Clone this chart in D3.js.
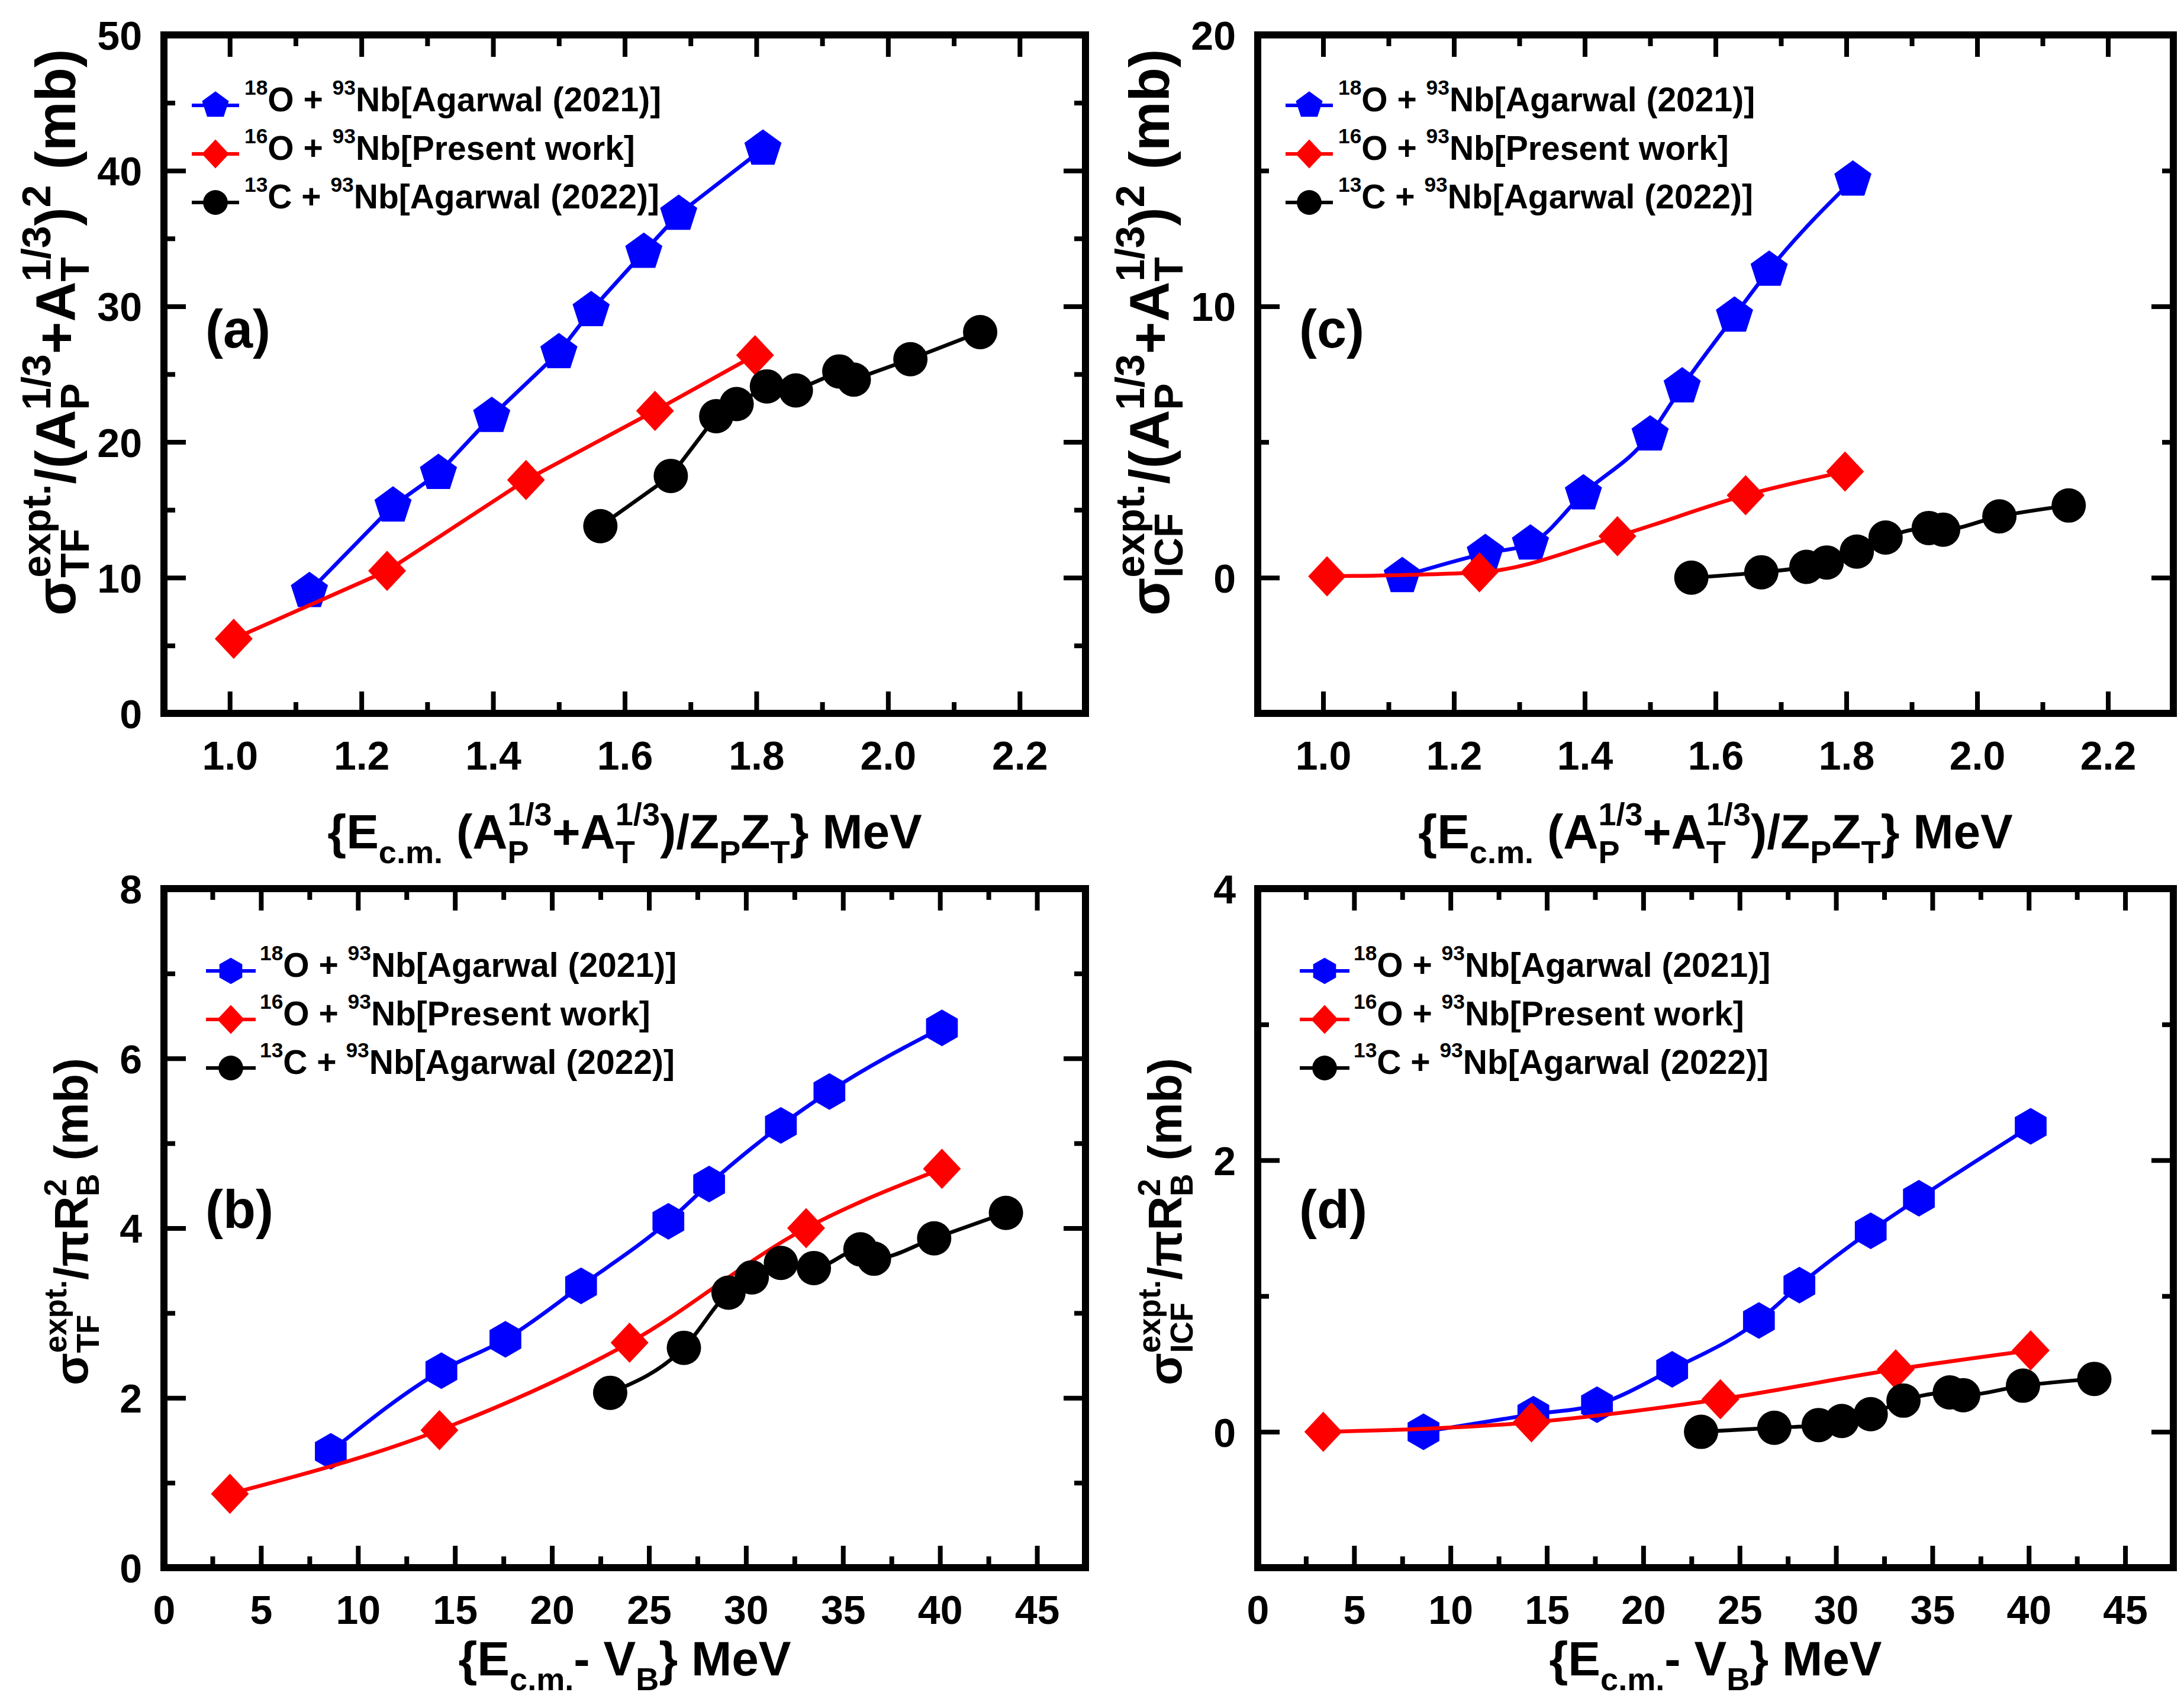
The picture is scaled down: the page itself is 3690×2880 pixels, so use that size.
<!DOCTYPE html>
<html>
<head>
<meta charset="utf-8">
<script src="https://cdn.jsdelivr.net/npm/d3@7"></script>
<style>
  html, body { margin: 0; padding: 0; background: #fff; }
</style>
</head>
<body>
<div id="chart"></div>
<script>
// ---- data ----
// reduced energy  E_cm (Ap^1/3 + At^1/3) / ZpZt  (MeV)
const redE18O = [1.121, 1.248, 1.317, 1.398, 1.5, 1.549, 1.629, 1.682, 1.81];
const redE16O = [1.006, 1.239, 1.45, 1.646, 1.798];
const redE13C = [1.563, 1.67, 1.739, 1.77, 1.816, 1.86, 1.926, 1.948, 2.034, 2.14];
// E_cm - V_B (MeV)
const ecmVb18O = [8.6, 14.3, 17.6, 21.5, 26.0, 28.1, 31.8, 34.3, 40.1];
const ecmVb16O = [3.4, 14.2, 24.0, 33.1, 40.1];
const ecmVb13C = [23.0, 26.8, 29.1, 30.3, 31.8, 33.5, 35.9, 36.6, 39.7, 43.4];

// (a) sigma_TF / (Ap^1/3 + At^1/3)^2
const tfRed18O = [9.0, 15.3, 17.7, 21.9, 26.6, 29.7, 34.0, 36.8, 41.6];
const tfRed16O = [5.5, 10.5, 17.2, 22.3, 26.4];
const tfRed13C = [13.8, 17.5, 21.9, 22.8, 24.1, 23.8, 25.2, 24.6, 26.1, 28.1];
// (c) sigma_ICF / (Ap^1/3 + At^1/3)^2
const icfRed18O = [0.05, 0.9, 1.25, 3.1, 5.27, 7.04, 9.65, 11.34, 14.66];
const icfRed16O = [0.05, 0.2, 1.53, 3.04, 3.91];
const icfRed13C = [0.0, 0.2, 0.4, 0.56, 0.96, 1.48, 1.83, 1.77, 2.26, 2.66];
// (b) sigma_TF / pi R_B^2
const tfPi18O = [1.37, 2.32, 2.69, 3.32, 4.08, 4.52, 5.21, 5.61, 6.36];
const tfPi16O = [0.87, 1.62, 2.65, 4.0, 4.7];
const tfPi13C = [2.06, 2.59, 3.24, 3.42, 3.59, 3.53, 3.75, 3.64, 3.88, 4.18];
// (d) sigma_ICF / pi R_B^2
const icfPi18O = [0.0, 0.13, 0.2, 0.46, 0.82, 1.08, 1.48, 1.72, 2.25];
const icfPi16O = [0.0, 0.07, 0.24, 0.46, 0.6];
const icfPi13C = [0.0, 0.03, 0.05, 0.08, 0.13, 0.23, 0.29, 0.27, 0.34, 0.39];

// legend entries
const legIso = ["18", "16", "13"];
const legProj = ["O + ", "O + ", "C + "];
const legRef = ["Nb[Agarwal (2021)]", "Nb[Present work]", "Nb[Agarwal (2022)]"];

// tick labels
const tickRedE = [1.0, 1.2, 1.4, 1.6, 1.8, 2.0, 2.2];
const tickEcmVb = [0, 5, 10, 15, 20, 25, 30, 35, 40, 45];
const tickTFred = [0, 10, 20, 30, 40, 50];
const tickICFred = [0, 10, 20];
const tickTFpi = [0, 2, 4, 6, 8];
const tickICFpi = [0, 2, 4];

// ---- layout ----
const W = 3690, H = 2880;
const FONT = "'Liberation Sans', Arial, Helvetica, sans-serif";
const colors = ["#0000ff", "#ff0000", "#000000"];

const svg = d3.select("#chart").append("svg")
  .attr("width", W).attr("height", H)
  .style("font-family", FONT).style("font-weight", "bold");

// rich text: parts = [text, kind("n"|"sup"|"sub"), stackWithNext]
function rich(parent, parts, size, o = {}) {
  const sc = o.scale || 0.66, up = o.raise || 0.45, down = o.drop || 0.26;
  const g = parent.append("g");
  let x = 0, stack = null;
  parts.forEach(([t, kind, stacked]) => {
    const fs = kind === "n" ? size : size * sc;
    const yOff = kind === "sup" ? -size * up : kind === "sub" ? size * down : 0;
    const el = g.append("text")
      .attr("x", x).attr("y", yOff)
      .attr("font-size", fs)
      .style("white-space", "pre")
      .text(t);
    const w = el.node().getComputedTextLength();
    if (stacked) {
      stack = { x, w };
    } else if (stack) {
      x = stack.x + Math.max(stack.w, w);
      stack = null;
    } else {
      x += w;
    }
  });
  return { g, w: x };
}

function polygon(n, r, rot) {
  const pts = d3.range(n).map(i => {
    const a = rot + (i * 2 * Math.PI) / n;
    return [r * Math.cos(a), r * Math.sin(a)];
  });
  return "M" + pts.map(p => p.join(",")).join("L") + "Z";
}

function markerPath(shape, s) {
  if (shape === "pentagon") return polygon(5, 33 * s, -Math.PI / 2);
  if (shape === "hexagon") return polygon(6, 31 * s, -Math.PI / 2);
  if (shape === "diamond") {
    const hw = 32 * s, hh = 34 * s;
    return `M0,${-hh}L${hw},0L0,${hh}L${-hw},0Z`;
  }
  const p = d3.path();
  p.arc(0, 0, 29 * s, 0, 2 * Math.PI);
  return p.toString();
}

const xTitleRed = [["{E", "n"], ["c.m.", "sub"], [" (A", "n"], ["1/3", "sup", true], ["P", "sub"],
  ["+A", "n"], ["1/3", "sup", true], ["T", "sub"], [")/Z", "n"], ["P", "sub"], ["Z", "n"], ["T", "sub"], ["} MeV", "n"]];
const xTitleEcm = [["{E", "n"], ["c.m.", "sub"], ["- V", "n"], ["B", "sub"], ["} MeV", "n"]];
const yTitleRed = k => [["σ", "n"], ["expt.", "sup", true], [k, "sub"], ["/(A", "n"], ["1/3", "sup", true], ["P", "sub"],
  ["+A", "n"], ["1/3", "sup", true], ["T", "sub"], [")", "n"], ["2", "sup"], [" (mb)", "n"]];
const yTitlePi = k => [["σ", "n"], ["expt.", "sup", true], [k, "sub"], ["/πR", "n"], ["2", "sup", true], ["B", "sub"], [" (mb)", "n"]];

const panels = [
  { label: "(a)", box: [277, 59, 1834, 1205], xDom: [0.9, 2.3], yDom: [0, 50],
    xTicks: tickRedE, yTicks: tickTFred, xFmt: d3.format(".1f"),
    xs: [redE18O, redE16O, redE13C], ys: [tfRed18O, tfRed16O, tfRed13C],
    shapes: ["pentagon", "diamond", "circle"], curve: d3.curveLinear,
    xTitle: xTitleRed, yTitle: yTitleRed("TF"), xTitleY: 1433,
    yTitleSize: 94, yTitleScale: 0.72, yTitleStart: 1040, yTitleX: 150,
    labelY: 587, leg: [129, 47, 127, 136] },
  { label: "(c)", box: [2125, 59, 3672, 1205], xDom: [0.9, 2.3], yDom: [-5, 20],
    xTicks: tickRedE, yTicks: tickICFred, xFmt: d3.format(".1f"),
    xs: [redE18O, redE16O, redE13C], ys: [icfRed18O, icfRed16O, icfRed13C],
    shapes: ["pentagon", "diamond", "circle"], curve: d3.curveMonotoneX,
    xTitle: xTitleRed, yTitle: yTitleRed("ICF"), xTitleY: 1433,
    yTitleSize: 94, yTitleScale: 0.72, yTitleStart: 1040, yTitleX: 150,
    labelY: 587, leg: [129, 47, 127, 136] },
  { label: "(b)", box: [277, 1501, 1834, 2648], xDom: [0, 47.5], yDom: [0, 8],
    xTicks: tickEcmVb, yTicks: tickTFpi, xFmt: d3.format("d"),
    xs: [ecmVb18O, ecmVb16O, ecmVb13C], ys: [tfPi18O, tfPi16O, tfPi13C],
    shapes: ["hexagon", "diamond", "circle"], curve: d3.curveMonotoneX,
    xTitle: xTitleEcm, yTitle: yTitlePi("TF"), xTitleY: 2830,
    yTitleSize: 80, yTitleScale: 0.66, yTitleStart: 2340, yTitleX: 129,
    labelY: 2074, leg: [149, 71, 155, 162] },
  { label: "(d)", box: [2125, 1501, 3672, 2648], xDom: [0, 47.5], yDom: [-1, 4],
    xTicks: tickEcmVb, yTicks: tickICFpi, xFmt: d3.format("d"),
    xs: [ecmVb18O, ecmVb16O, ecmVb13C], ys: [icfPi18O, icfPi16O, icfPi13C],
    shapes: ["hexagon", "diamond", "circle"], curve: d3.curveMonotoneX,
    xTitle: xTitleEcm, yTitle: yTitlePi("ICF"), xTitleY: 2830,
    yTitleSize: 80, yTitleScale: 0.66, yTitleStart: 2340, yTitleX: 129,
    labelY: 2074, leg: [149, 71, 155, 162] }
];

// minor ticks halfway between the majors, skipping the frame edges
function minors(majors, dom) {
  const half = (majors[1] - majors[0]) / 2;
  const eq = (a, b) => Math.abs(a - b) < 1e-6;
  return d3.range(dom[0], dom[1] + half / 2, half)
    .filter(v => !majors.some(m => eq(m, v)) && !eq(v, dom[0]) && !eq(v, dom[1]));
}

function styleAxis(g) {
  g.attr("font-size", 68).attr("font-family", FONT).attr("font-weight", "bold");
  g.select(".domain").remove();
  g.selectAll(".tick line").attr("stroke", "#000").attr("stroke-width", 8);
  return g;
}

function drawPanel(p) {
  const [L, T, R, B] = p.box;
  const x = d3.scaleLinear().domain(p.xDom).range([L, R]);
  const y = d3.scaleLinear().domain(p.yDom).range([B, T]);
  const g = svg.append("g");
  const mx = minors(p.xTicks, p.xDom), my = minors(p.yTicks, p.yDom);

  // minor ticks, all four sides, pointing inward
  styleAxis(g.append("g").attr("transform", `translate(0,${B})`)
    .call(d3.axisBottom(x).tickValues(mx).tickSize(-19).tickFormat("")));
  styleAxis(g.append("g").attr("transform", `translate(0,${T})`)
    .call(d3.axisTop(x).tickValues(mx).tickSize(-19).tickFormat("")));
  styleAxis(g.append("g").attr("transform", `translate(${L},0)`)
    .call(d3.axisLeft(y).tickValues(my).tickSize(-19).tickFormat("")));
  styleAxis(g.append("g").attr("transform", `translate(${R},0)`)
    .call(d3.axisRight(y).tickValues(my).tickSize(-19).tickFormat("")));

  // major ticks
  const bottom = styleAxis(g.append("g").attr("transform", `translate(0,${B})`)
    .call(d3.axisBottom(x).tickValues(p.xTicks).tickSize(-37).tickFormat(p.xFmt)));
  bottom.selectAll("text").attr("y", 95).attr("dy", null).attr("fill", "#000");
  styleAxis(g.append("g").attr("transform", `translate(0,${T})`)
    .call(d3.axisTop(x).tickValues(p.xTicks).tickSize(-37).tickFormat("")));
  const left = styleAxis(g.append("g").attr("transform", `translate(${L},0)`)
    .call(d3.axisLeft(y).tickValues(p.yTicks).tickSize(-37).tickFormat(d3.format("d"))));
  left.selectAll("text").attr("x", -37).attr("dy", "0.36em").attr("fill", "#000");
  styleAxis(g.append("g").attr("transform", `translate(${R},0)`)
    .call(d3.axisRight(y).tickValues(p.yTicks).tickSize(-37).tickFormat("")));

  // frame
  g.append("rect")
    .attr("x", L).attr("y", T).attr("width", R - L).attr("height", B - T)
    .attr("fill", "none").attr("stroke", "#000").attr("stroke-width", 12);

  // series
  p.xs.forEach((xs, k) => {
    const ys = p.ys[k];
    const idx = d3.range(xs.length);
    const line = d3.line().x(i => x(xs[i])).y(i => y(ys[i])).curve(p.curve);
    g.append("path").attr("d", line(idx))
      .attr("fill", "none").attr("stroke", colors[k]).attr("stroke-width", 6.5);
    g.append("g").selectAll("path").data(idx).join("path")
      .attr("d", markerPath(p.shapes[k], 1))
      .attr("transform", i => `translate(${x(xs[i])},${y(ys[i])})`)
      .attr("fill", colors[k]);
  });

  // legend
  const [lTop, lx0, lx1, ltx] = p.leg;
  legIso.forEach((iso, k) => {
    const by = T + lTop + k * 82;
    const my0 = by - 10;
    g.append("line").attr("x1", L + lx0).attr("x2", L + lx1).attr("y1", my0).attr("y2", my0)
      .attr("stroke", colors[k]).attr("stroke-width", 6);
    g.append("path").attr("d", markerPath(p.shapes[k], 0.72))
      .attr("transform", `translate(${L + (lx0 + lx1) / 2},${my0})`)
      .attr("fill", colors[k]);
    const t = rich(g, [[iso, "sup"], [legProj[k], "n"], ["93", "sup"], [legRef[k], "n"]], 57,
      { scale: 0.62, raise: 0.5 });
    t.g.attr("transform", `translate(${L + ltx},${by})`);
  });

  // panel label
  g.append("text").attr("x", L + 70).attr("y", p.labelY)
    .attr("font-size", 90).text(p.label);

  // axis titles
  const xt = rich(g, p.xTitle, 82, { scale: 0.66, raise: 0.47, drop: 0.3 });
  xt.g.attr("transform", `translate(${(L + R) / 2 - xt.w / 2},${p.xTitleY})`);
  const yt = rich(g, p.yTitle, p.yTitleSize, { scale: p.yTitleScale, raise: 0.45, drop: 0.24 });
  yt.g.attr("transform", `translate(${L - p.yTitleX},${p.yTitleStart}) rotate(-90)`);
}

panels.forEach(drawPanel);
</script>
</body>
</html>
